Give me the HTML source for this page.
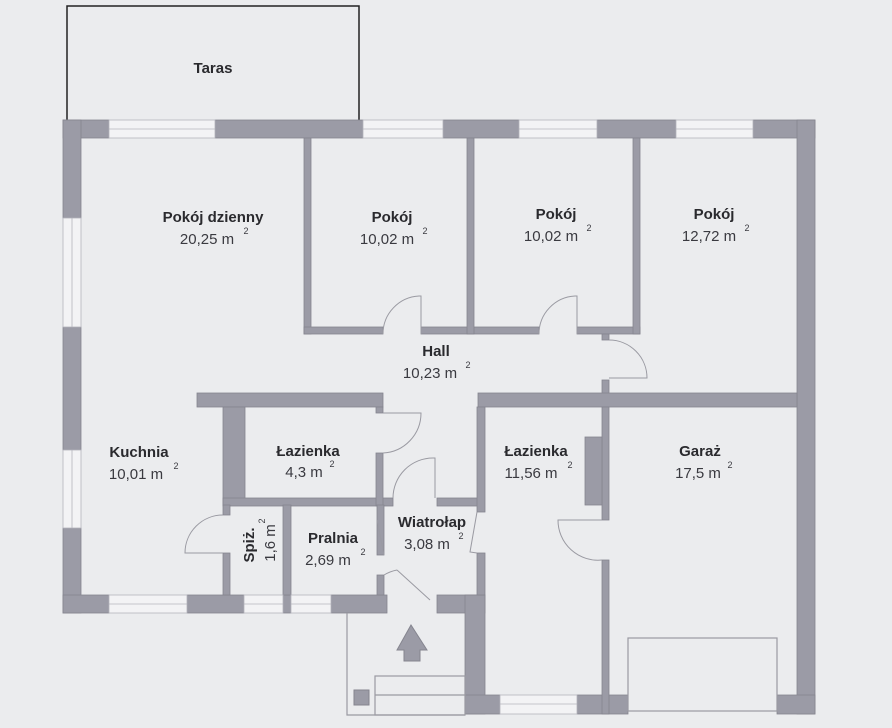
<!DOCTYPE html>
<html><head><meta charset="utf-8"><style>
html,body{margin:0;padding:0;background:#ebecee;}
svg{display:block}
text{font-family:"Liberation Sans","DejaVu Sans",sans-serif;text-anchor:middle;}
.n{font-weight:600;font-size:15px;fill:#2a2a2e}
.a{font-size:15px;fill:#3a3a40}
.s{font-size:9px;fill:#3a3a40}
</style></head><body>
<svg width="892" height="728" viewBox="0 0 892 728" xmlns="http://www.w3.org/2000/svg">
<rect width="892" height="728" fill="#ebecee"/>
<polyline points="67,120 67,6 359,6 359,120" fill="none" stroke="#222" stroke-width="1.5"/>
<text class="n" x="213" y="73">Taras</text>
<g fill="#9b9ba6" stroke="#85858f" stroke-width="0.8">
<rect x="63" y="120" width="46" height="18"/>
<rect x="215" y="120" width="148" height="18"/>
<rect x="443" y="120" width="76" height="18"/>
<rect x="597" y="120" width="79" height="18"/>
<rect x="753" y="120" width="62" height="18"/>
<rect x="63" y="120" width="18" height="98"/>
<rect x="63" y="327" width="18" height="123"/>
<rect x="63" y="528" width="18" height="85"/>
<rect x="797" y="120" width="18" height="594"/>
<rect x="63" y="595" width="46" height="18"/>
<rect x="187" y="595" width="57" height="18"/>
<rect x="283" y="595" width="8" height="18"/>
<rect x="331" y="595" width="56" height="18"/>
<rect x="437" y="595" width="48" height="18"/>
<rect x="465" y="595" width="20" height="119"/>
<rect x="465" y="695" width="35" height="19"/>
<rect x="577" y="695" width="51" height="19"/>
<rect x="777" y="695" width="38" height="19"/>
<rect x="304" y="138" width="7" height="196"/>
<rect x="304" y="327" width="79" height="7"/>
<rect x="421" y="327" width="118" height="7"/>
<rect x="467" y="138" width="7" height="196"/>
<rect x="577" y="327" width="63" height="7"/>
<rect x="633" y="138" width="7" height="196"/>
<rect x="602" y="334" width="7" height="6"/>
<rect x="602" y="380" width="7" height="27"/>
<rect x="478" y="393" width="319" height="14"/>
<rect x="197" y="393" width="186" height="14"/>
<rect x="376" y="407" width="7" height="6"/>
<rect x="223" y="407" width="22" height="98"/>
<rect x="223" y="498" width="170" height="8"/>
<rect x="376" y="453" width="7" height="53"/>
<rect x="223" y="505" width="7" height="10"/>
<rect x="223" y="553" width="7" height="42"/>
<rect x="283" y="505" width="8" height="90"/>
<rect x="377" y="505" width="7" height="50"/>
<rect x="377" y="575" width="7" height="20"/>
<rect x="437" y="498" width="46" height="8"/>
<rect x="477" y="407" width="8" height="105"/>
<rect x="477" y="553" width="8" height="42"/>
<rect x="602" y="407" width="7" height="113"/>
<rect x="585" y="437" width="17" height="68"/>
<rect x="602" y="560" width="7" height="154"/>
</g>
<g fill="#f3f3f5" stroke="#b5b5bd" stroke-width="0.8">
<rect x="109" y="120" width="106" height="18"/><line x1="109" y1="129" x2="215" y2="129"/>
<rect x="363" y="120" width="80" height="18"/><line x1="363" y1="129" x2="443" y2="129"/>
<rect x="519" y="120" width="78" height="18"/><line x1="519" y1="129" x2="597" y2="129"/>
<rect x="676" y="120" width="77" height="18"/><line x1="676" y1="129" x2="753" y2="129"/>
<rect x="63" y="218" width="18" height="109"/><line x1="72" y1="218" x2="72" y2="327"/>
<rect x="63" y="450" width="18" height="78"/><line x1="72" y1="450" x2="72" y2="528"/>
<rect x="109" y="595" width="78" height="18"/><line x1="109" y1="604" x2="187" y2="604"/>
<rect x="244" y="595" width="39" height="18"/><line x1="244" y1="604" x2="283" y2="604"/>
<rect x="291" y="595" width="40" height="18"/><line x1="291" y1="604" x2="331" y2="604"/>
<rect x="500" y="695" width="77" height="19"/><line x1="500" y1="704" x2="577" y2="704"/>
</g>
<g fill="none" stroke="#9a9aa2" stroke-width="1">
<path d="M383,334 A38,38 0 0 1 419,296 L421,296 L421,334"/>
<path d="M539,334 A38,38 0 0 1 575,296 L577,296 L577,334"/>
<path d="M609,340 A38,38 0 0 1 647,378 L609,378"/>
<path d="M383,413 L421,413 A40,40 0 0 1 383,453"/>
<path d="M223,515 A38,38 0 0 0 185,553 L223,553"/>
<path d="M393,498 A40,40 0 0 1 433,458 L435,458 L435,498"/>
<path d="M384,555 L377,520 M384,575 A40,40 0 0 1 397,570 M397,570 L430,600"/>
<path d="M477,512 L470,552 L477,553"/>
<path d="M602,520 L558,520 A40,40 0 0 0 602,560"/>
</g>
<g fill="none" stroke="#9a9aa2" stroke-width="1.2">
<polyline points="347,613 347,715 465,715"/>
<rect x="375" y="676" width="90" height="39"/>
<line x1="375" y1="695" x2="465" y2="695"/>
<rect x="628" y="638" width="149" height="73" fill="#ebecee"/>
</g>
<rect x="354" y="690" width="15" height="15" fill="#9b9ba6" stroke="#85858f"/>
<polygon points="411,625 427,650 420,650 420,661 404,661 404,650 397,650" fill="#9b9ba6" stroke="#85858f"/>
<text class="n" x="213" y="222">Pokój dzienny</text>
<text class="a" x="207" y="244">20,25 m</text><text class="s" x="246" y="234">2</text>
<text class="n" x="392" y="222">Pokój</text>
<text class="a" x="387" y="244">10,02 m</text><text class="s" x="425" y="234">2</text>
<text class="n" x="556" y="219">Pokój</text>
<text class="a" x="551" y="241">10,02 m</text><text class="s" x="589" y="231">2</text>
<text class="n" x="714" y="219">Pokój</text>
<text class="a" x="709" y="241">12,72 m</text><text class="s" x="747" y="231">2</text>
<text class="n" x="436" y="356">Hall</text>
<text class="a" x="430" y="378">10,23 m</text><text class="s" x="468" y="368">2</text>
<text class="n" x="139" y="457">Kuchnia</text>
<text class="a" x="136" y="479">10,01 m</text><text class="s" x="176" y="469">2</text>
<text class="n" x="308" y="456">Łazienka</text>
<text class="a" x="304" y="477">4,3 m</text><text class="s" x="332" y="467">2</text>
<text class="n" x="536" y="456">Łazienka</text>
<text class="a" x="531" y="478">11,56 m</text><text class="s" x="570" y="468">2</text>
<text class="n" x="700" y="456">Garaż</text>
<text class="a" x="698" y="478">17,5 m</text><text class="s" x="730" y="468">2</text>
<text class="n" x="432" y="527">Wiatrołap</text>
<text class="a" x="427" y="549">3,08 m</text><text class="s" x="461" y="539">2</text>
<text class="n" x="333" y="543">Pralnia</text>
<text class="a" x="328" y="565">2,69 m</text><text class="s" x="363" y="555">2</text>
<text class="n" transform="translate(254,545) rotate(-90)">Spiż.</text>
<text class="a" transform="translate(275,543) rotate(-90)">1,6 m</text>
<text class="s" transform="translate(265,521) rotate(-90)">2</text>
</svg>
</body></html>
